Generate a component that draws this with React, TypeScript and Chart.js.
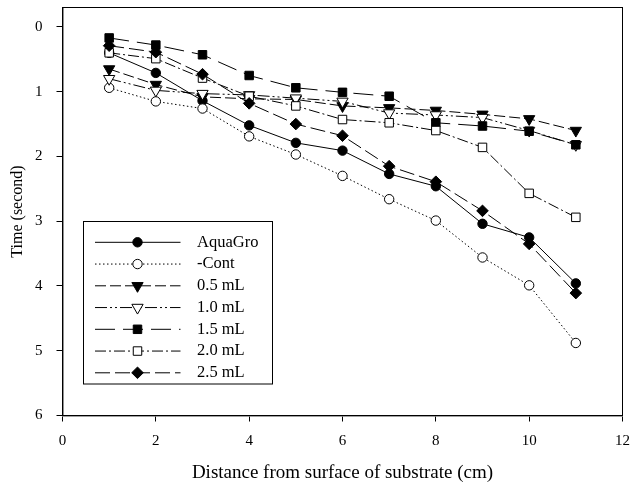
import React, { useEffect, useRef } from "react";
import { Chart, registerables } from "chart.js";
import { drawPoint } from "chart.js/helpers";

Chart.register(...registerables);

const distances = [1, 2, 3, 4, 5, 6, 7, 8, 9, 10, 11];
const seriesNames = ["AquaGro", "-Cont", "0.5 mL", "1.0 mL", "1.5 mL", "2.0 mL", "2.5 mL"];
const aquaGro = [0.4, 0.71, 1.14, 1.52, 1.79, 1.91, 2.27, 2.46, 3.04, 3.25, 3.96];
const cont = [0.94, 1.15, 1.26, 1.69, 1.97, 2.3, 2.66, 2.99, 3.56, 3.99, 4.88];
const ml05 = [0.65, 0.89, 1.08, 1.11, 1.12, 1.22, 1.25, 1.29, 1.35, 1.42, 1.6];
const ml10 = [0.8, 0.98, 1.03, 1.05, 1.1, 1.15, 1.33, 1.36, 1.4, 1.6, 1.82];
const ml15 = [0.17, 0.28, 0.43, 0.75, 0.94, 1.01, 1.07, 1.48, 1.53, 1.61, 1.82];
const ml20 = [0.4, 0.49, 0.79, 1.07, 1.22, 1.43, 1.48, 1.6, 1.86, 2.57, 2.94];
const ml25 = [0.29, 0.39, 0.73, 1.18, 1.5, 1.68, 2.15, 2.39, 2.84, 3.35, 4.11];
const xTicks = [0, 2, 4, 6, 8, 10, 12];
const yTicks = [0, 1, 2, 3, 4, 5, 6];

const FONT = "'Liberation Serif', 'Times New Roman', serif";

type Style = {
  dash: number[];
  pointStyle: string;
  radius: number;
  rotation: number;
  filled: boolean;
};

const styles: Style[] = [
  { dash: [], pointStyle: "circle", radius: 4.7, rotation: 0, filled: true },
  { dash: [1.5, 2.5], pointStyle: "circle", radius: 4.7, rotation: 0, filled: false },
  { dash: [11, 4], pointStyle: "triangle", radius: 6.5, rotation: 180, filled: true },
  { dash: [12, 3, 2, 3, 2, 3], pointStyle: "triangle", radius: 6.5, rotation: 180, filled: false },
  { dash: [20, 8], pointStyle: "rect", radius: 6, rotation: 0, filled: true },
  { dash: [11, 3, 2, 3], pointStyle: "rect", radius: 6, rotation: 0, filled: false },
  { dash: [15, 5], pointStyle: "rectRot", radius: 5.8, rotation: 0, filled: true },
];

const seriesValues = [aquaGro, cont, ml05, ml10, ml15, ml20, ml25];

const framePlugin = {
  id: "frame",
  afterDraw(chart: any) {
    const { ctx, chartArea } = chart;
    ctx.save();
    ctx.strokeStyle = "#000";
    ctx.lineWidth = 1;
    ctx.strokeRect(chartArea.left, chartArea.top, chartArea.right - chartArea.left, chartArea.bottom - chartArea.top);
    ctx.restore();
  },
};

const legendPlugin = {
  id: "boxLegend",
  afterDraw(chart: any) {
    const { ctx, chartArea } = chart;
    const left = chartArea.left + 21;
    const top = chartArea.top + 214;
    const w = 189;
    const h = 162.5;
    ctx.save();
    ctx.fillStyle = "#fff";
    ctx.fillRect(left, top, w, h);
    ctx.strokeStyle = "#000";
    ctx.lineWidth = 1;
    ctx.setLineDash([]);
    ctx.strokeRect(left, top, w, h);
    chart.data.datasets.forEach((ds: any, i: number) => {
      const y = top + 20.8 + i * 21.75;
      const x1 = left + 11.5;
      const x2 = left + 97;
      const xm = left + 54;
      ctx.save();
      ctx.strokeStyle = "#000";
      ctx.lineWidth = 1;
      ctx.setLineDash(ds.borderDash || []);
      ctx.beginPath();
      ctx.moveTo(x1, y);
      ctx.lineTo(x2, y);
      ctx.stroke();
      ctx.setLineDash([]);
      ctx.fillStyle = ds.pointBackgroundColor;
      ctx.strokeStyle = "#000";
      ctx.lineWidth = 1;
      drawPoint(ctx, { pointStyle: ds.pointStyle, rotation: ds.pointRotation, radius: ds.pointRadius, borderWidth: 1 }, xm, y);
      ctx.restore();
      ctx.fillStyle = "#000";
      ctx.font = `16.5px ${FONT}`;
      ctx.textAlign = "left";
      ctx.textBaseline = "middle";
      ctx.fillText(ds.label, left + 113.5, y);
    });
    ctx.restore();
  },
};

const zeroPad = (s: any) => {
  s.paddingTop = 0;
  s.paddingBottom = 0;
  s.paddingLeft = 0;
  s.paddingRight = 0;
};

export default function App() {
  const ref = useRef<HTMLCanvasElement | null>(null);
  useEffect(() => {
    if (!ref.current) return;
    Chart.defaults.font.family = FONT;
    Chart.defaults.color = "#000";
    const datasets = seriesNames.map((name, i) => ({
      label: name,
      data: distances.map((d, j) => ({ x: d, y: seriesValues[i][j] })),
      order: seriesNames.length - i,
      borderColor: "#000",
      borderWidth: 1,
      borderDash: styles[i].dash,
      pointStyle: styles[i].pointStyle,
      pointRadius: styles[i].radius,
      pointRotation: styles[i].rotation,
      pointBackgroundColor: styles[i].filled ? "#000" : "#fff",
      pointBorderColor: "#000",
      pointBorderWidth: 1,
      fill: false,
      tension: 0,
    }));
    const chart = new Chart(ref.current, {
      type: "line",
      data: { datasets },
      plugins: [framePlugin, legendPlugin],
      options: {
        animation: false,
        responsive: false,
        layout: { padding: { left: 0, top: 7.5, right: 7.5, bottom: 0 } },
        plugins: { legend: { display: false }, tooltip: { enabled: false } },
        scales: {
          x: {
            type: "linear",
            min: xTicks[0],
            max: xTicks[xTicks.length - 1],
            afterBuildTicks: (s: any) => {
              s.ticks = xTicks.map((v) => ({ value: v }));
            },
            ticks: { color: "#000", font: { size: 15 }, padding: 10.5 },
            grid: { drawOnChartArea: false, drawTicks: true, tickLength: 6, color: "#000", tickWidth: 1 },
            border: { color: "#444", width: 1.5 },
            title: {
              display: true,
              text: "Distance from surface of substrate (cm)",
              color: "#000",
              font: { size: 19 },
              padding: { top: 0, bottom: 0 },
            },
            afterFit: (s: any) => {
              s.height = 68.5;
              zeroPad(s);
            },
          },
          y: {
            type: "linear",
            reverse: true,
            min: -0.3,
            max: yTicks[yTicks.length - 1],
            afterBuildTicks: (s: any) => {
              s.ticks = yTicks.map((v) => ({ value: v }));
            },
            ticks: { color: "#000", font: { size: 15 }, padding: 14 },
            grid: { drawOnChartArea: false, drawTicks: true, tickLength: 6, color: "#000", tickWidth: 1 },
            border: { color: "#222", width: 1.5 },
            title: {
              display: true,
              text: "Time (second)",
              color: "#000",
              font: { size: 16 },
              padding: { top: 8, bottom: 0 },
            },
            afterFit: (s: any) => {
              s.width = 62.5;
              zeroPad(s);
            },
          },
        },
      },
    } as any);
    return () => chart.destroy();
  }, []);
  return (
    <div style={{ position: "fixed", left: 0, top: 0, width: 630, height: 484, background: "#fff" }}>
      <canvas ref={ref} width={630} height={484} style={{ display: "block" }} />
    </div>
  );
}
